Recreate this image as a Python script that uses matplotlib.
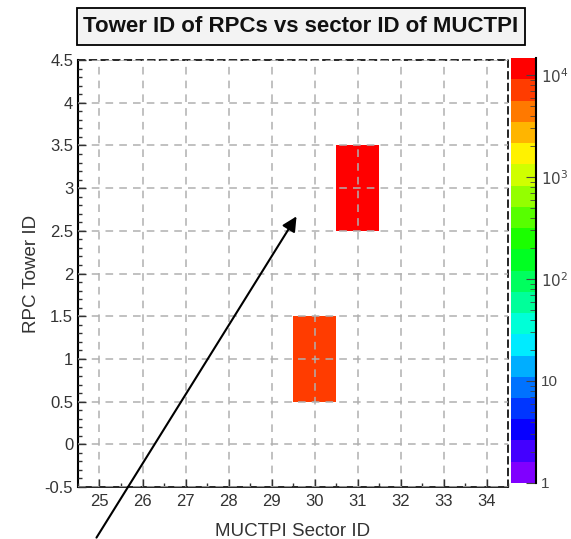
import numpy as np
import matplotlib
matplotlib.use('Agg')
from matplotlib import pyplot as plt
from matplotlib.colors import ListedColormap, LogNorm, hsv_to_rgb
from matplotlib.ticker import MultipleLocator, LogLocator, FixedFormatter, FixedLocator

plt.rcParams['font.family'] = ['Liberation Sans', 'DejaVu Sans']

# filled bins of the 2D histogram
sector_ids = [30, 31]
tower_ids = [1, 3]
counts = [7000, 14500]

x_edges = np.arange(24.5, 35.5, 1.0)
y_edges = np.arange(-0.5, 5.5, 1.0)
x_ticks = list(range(25, 35))
y_ticks = [-0.5, 0, 0.5, 1, 1.5, 2, 2.5, 3, 3.5, 4, 4.5]
z_ticks = [1, 10, 100, 1000, 10000]
z_labels = ['1', '10', '$10^{2}$', '$10^{3}$', '$10^{4}$']
z_max = 1.46e4

# 20 colour ROOT-like palette, violet -> red
hues = np.linspace(0.75, 0.0, 20)
palette = ListedColormap([hsv_to_rgb((h, 1, 1)) for h in hues])

H, _, _ = np.histogram2d(sector_ids, tower_ids, bins=[x_edges, y_edges], weights=counts)
H = np.ma.masked_equal(H.T, 0)

fig = plt.figure(figsize=(5.71, 5.39), dpi=100)
ax = fig.add_axes([0.1366, 0.0965, 0.7531, 0.792])
cax = fig.add_axes([0.895, 0.104, 0.044, 0.788])

mesh = ax.pcolormesh(x_edges, y_edges, H, cmap=palette, norm=LogNorm(vmin=1, vmax=z_max))

ax.set_xlim(24.5, 34.5)
ax.set_ylim(-0.5, 4.5)
ax.set_xticks(x_ticks)
ax.set_yticks(y_ticks)
ax.set_yticklabels(['-0.5', '0', '0.5', '1', '1.5', '2', '2.5', '3', '3.5', '4', '4.5'])
ax.xaxis.set_minor_locator(MultipleLocator(0.5))
ax.yaxis.set_minor_locator(MultipleLocator(0.1))
ax.tick_params(which='both', direction='in', top=False, right=False, labelsize=12, colors='#333333')
ax.tick_params(which='major', length=6, width=1)
ax.tick_params(which='minor', length=3, width=1)
ax.tick_params(axis='x', pad=5)

ax.grid(True, which='major', color='#b0b0b0', linestyle=(0, (5, 4)), linewidth=1.1, zorder=3)
ax.set_axisbelow(False)
for side in ['top', 'right']:
    ax.spines[side].set_linestyle((0, (4, 3)))
    ax.spines[side].set_linewidth(1.2)
ax.spines['left'].set_linewidth(1.5)
ax.spines['bottom'].set_linewidth(1.2)

ax.set_xlabel('MUCTPI Sector ID', fontsize=13.5, color='#333333', labelpad=10)
ax.set_ylabel('RPC Tower ID', fontsize=13.5, color='#333333', labelpad=3)

cb = fig.colorbar(mesh, cax=cax)
cb.outline.set_visible(False)
cax.spines['right'].set_visible(True)
cax.yaxis.set_major_locator(FixedLocator(z_ticks))
cax.yaxis.set_major_formatter(FixedFormatter(z_labels))
cax.yaxis.set_minor_locator(LogLocator(base=10, subs=np.arange(2, 10)))
cax.tick_params(which='both', direction='in', labelsize=11, colors='#444444')
cax.tick_params(which='major', length=7)
cax.tick_params(which='minor', length=4)
cax.spines['right'].set_linewidth(1.5)

# title box
fig.patches.append(matplotlib.patches.Rectangle(
    (77 / 571, 1 - 45 / 539), 448 / 571, 37 / 539, transform=fig.transFigure,
    facecolor='#f3f3f3', edgecolor='black', linewidth=1.3))
fig.text(301 / 571, 1 - 27 / 539, 'Tower ID of RPCs vs sector ID of MUCTPI', ha='center', va='center',
         fontsize=16, fontweight='bold', color='#111111')

# annotation arrow
fig.patches.append(matplotlib.patches.FancyArrowPatch(
    (95 / 571, 1 - 540 / 539), (298 / 571, 1 - 214 / 539), transform=fig.transFigure,
    arrowstyle='-|>', mutation_scale=22, color='black', linewidth=1.5))

fig.savefig('out.png', dpi=100)
